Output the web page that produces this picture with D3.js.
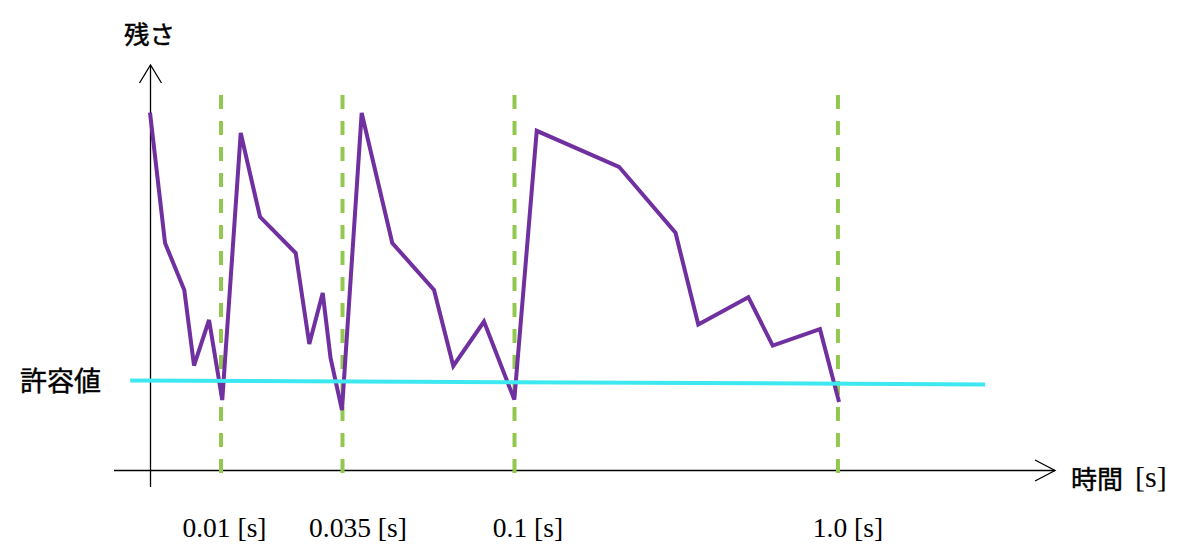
<!DOCTYPE html>
<html><head><meta charset="utf-8">
<script src="https://cdn.jsdelivr.net/npm/d3@7"></script>
<style>html,body{margin:0;padding:0;background:#fff}</style>
</head><body>
<svg id="c" width="1192" height="560"></svg>
<script>
// ---- data (schematic units: time axis 0..100, residual 0..100) ----
const residualX = [0, 1.67, 3.81, 4.89, 6.56, 8.03, 10.08, 12.22, 16.19, 17.7, 19.19, 20.06, 21.33,
  23.52, 26.92, 31.56, 33.7, 37.11, 40.48, 42.97, 52.11, 58.39, 60.92, 66.48, 69.19, 74.44, 76.56];
const residualY = [89.4, 56.75, 45, 26.1, 37.5, 17.5, 84.25, 63.3, 54.25, 31.5, 44.25, 28, 15,
  89.25, 56.75, 45, 26, 37.1, 17.6, 84.8, 75.8, 59.3, 36.4, 43.2, 31.1, 35.2, 17];
const markerTimes = [7.89, 21.39, 40.5, 76.44];
const markerLabels = ["0.01 [s]", "0.035 [s]", "0.1 [s]", "1.0 [s]"];
const toleranceX = [-2.2, 92.8];
const toleranceY = [22.4, 21.4];
const yTitle = "残さ";
const xTitle = "時間";
const xUnit = "[s]";
const toleranceLabel = "許容値";

// ---- layout ----
const svg = d3.select("#c");
const x = d3.scaleLinear().domain([0, 100]).range([150, 1050]);
const y = d3.scaleLinear().domain([0, 100]).range([470, 70]);
const labelDx = [3.5, 15.5, 13.5, 10];
const jp = "'Noto Sans CJK JP', sans-serif";
const serif = "'Liberation Serif', 'Times New Roman', serif";

// axes
const ax = svg.append("g").attr("stroke", "#000").attr("stroke-width", 1.3).attr("fill", "none");
const x0 = Math.round(x(0)) + 0.5, yb = Math.round(y(0)) + 0.5;
ax.append("line").attr("x1", x0).attr("x2", x0).attr("y1", 487).attr("y2", 65);
ax.append("polyline").attr("points", `${x0-11},83 ${x0},65 ${x0+11},83`);
ax.append("line").attr("x1", 114).attr("x2", 1055).attr("y1", yb).attr("y2", yb);
ax.append("polyline").attr("points", `1035,${yb-10.5} 1055,${yb} 1035,${yb+10.5}`);

// dashed marker lines
svg.append("g").selectAll("line").data(markerTimes).join("line")
  .attr("x1", d => x(d)).attr("x2", d => x(d))
  .attr("y1", 95).attr("y2", 484)
  .attr("stroke", "#92C84F").attr("stroke-width", 4)
  .attr("stroke-dasharray", "14 12");

// residual line
const pts = residualX.map((d, i) => [d, residualY[i]]);
svg.append("path").datum(pts)
  .attr("d", d3.line().x(d => x(d[0])).y(d => y(d[1])))
  .attr("fill", "none").attr("stroke", "#7030A0").attr("stroke-width", 4)
  .attr("stroke-linejoin", "miter");

// tolerance line
const tol = toleranceX.map((d, i) => [d, toleranceY[i]]);
svg.append("path").datum(tol)
  .attr("d", d3.line().x(d => x(d[0])).y(d => y(d[1])))
  .attr("fill", "none").attr("stroke", "#3EE8F0").attr("stroke-width", 4);

// texts
const jpText = (t, px, py, fs) => svg.append("text").attr("x", px).attr("y", py)
  .attr("font-family", jp).attr("font-size", fs)
  .attr("stroke", "#000").attr("stroke-width", 0.45).attr("fill", "#000").text(t);
jpText(yTitle, 124, 44, 25.5);
jpText(toleranceLabel, 20, 391, 27);
jpText(xTitle, 1071, 489, 26);
svg.append("text").attr("x", 1135).attr("y", 487).attr("font-family", serif).attr("font-size", 30)
  .text(xUnit);

svg.append("g").selectAll("text").data(markerLabels).join("text")
  .attr("x", (d, i) => x(markerTimes[i]) + labelDx[i])
  .attr("y", 537)
  .attr("text-anchor", "middle")
  .attr("font-family", serif).attr("font-size", 27.5)
  .text(d => d);
</script>
</body></html>
